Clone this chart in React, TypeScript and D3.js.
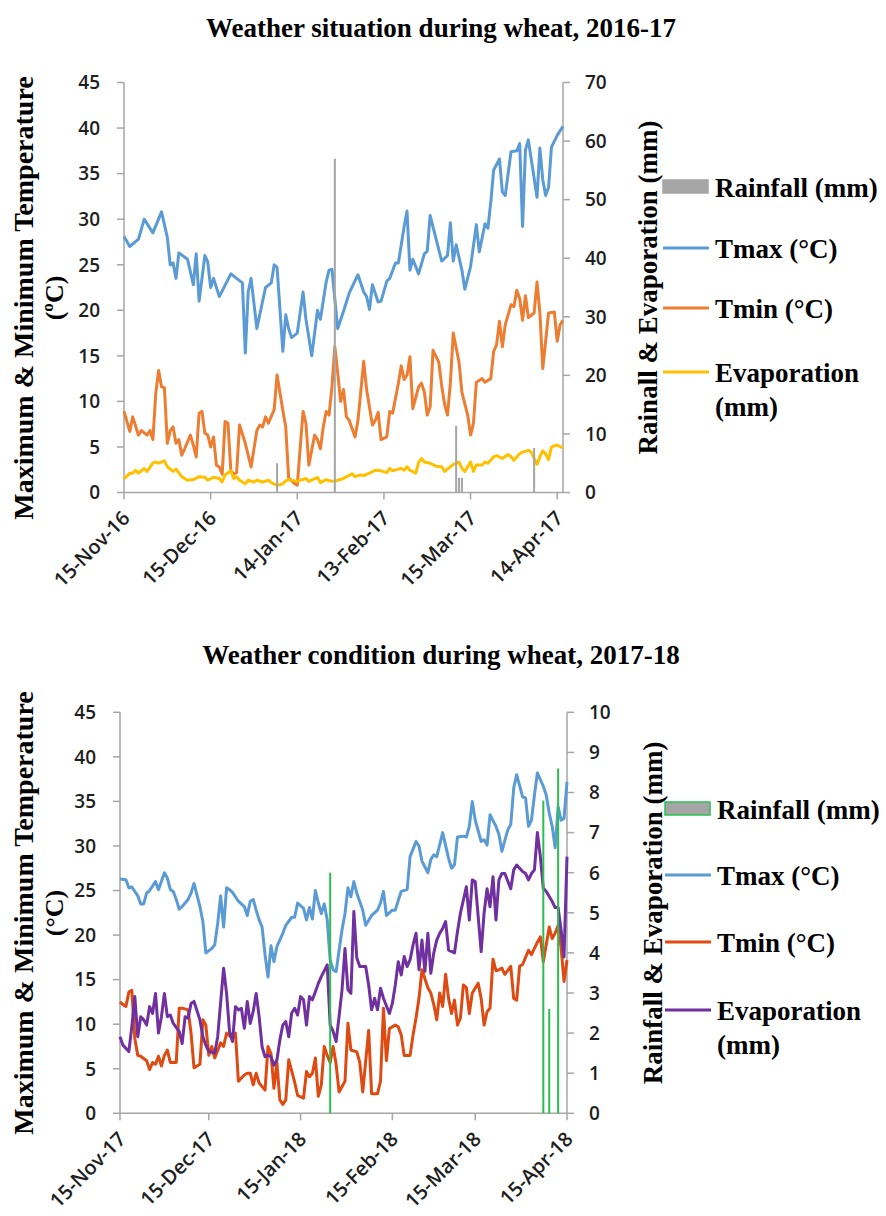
import * as d3 from "d3";

// [day after first date, value]
const TMAX_1617: [number, number][] = [
  [0, 28.1], [2, 27.0], [5, 27.8], [7, 30.0], [10, 28.5], [13, 30.8], [15, 28.0], [16, 25.0], [17, 25.2], [18, 23.5],
  [19, 26.3], [22, 25.6], [24, 22.8], [25, 26.2], [26, 21.0], [28, 26.0], [29, 25.3], [30, 22.5], [31, 23.5], [33, 21.5],
  [37, 24.0], [41, 23.0], [42, 15.3], [43, 22.0], [44, 23.5], [46, 18.0], [49, 22.5], [51, 23.0], [52, 25.0], [53, 24.7],
  [55, 15.5], [56, 19.5], [57, 18.0], [58, 17.0], [60, 17.5], [62, 22.0], [63, 19.0], [65, 15.0], [67, 20.0], [68, 19.0],
  [70, 23.1], [71, 24.4], [72, 24.5], [74, 18.0], [76, 19.9], [78, 21.9], [81, 23.9], [83, 22.0], [84, 21.5], [85, 20.1],
  [86, 22.8], [88, 20.9], [89, 21.0], [91, 23.2], [92, 23.5], [94, 25.2], [95, 25.2], [97, 29.2], [98, 30.9], [99, 24.4],
  [100, 25.6], [102, 24.0], [104, 26.2], [105, 26.5], [106, 30.4], [108, 27.9], [110, 25.4], [112, 26.0], [113, 29.6],
  [114, 25.4], [115, 27.2], [117, 24.4], [118, 22.3], [120, 24.8], [122, 29.4], [123, 26.4], [125, 29.5], [126, 29.0],
  [127, 31.9], [128, 35.4], [130, 36.6], [131, 33.0], [132, 32.6], [134, 37.4], [136, 37.5], [137, 38.3], [138, 29.2],
  [139, 37.6], [140, 38.7], [143, 32.4], [144, 37.8], [145, 34.3], [146, 32.6], [147, 33.5], [148, 37.9], [150, 39.2],
  [152, 40.2],
];

const TMIN_1617: [number, number][] = [
  [0, 8.9], [1, 7.8], [2, 6.7], [3, 8.3], [4, 7.3], [5, 6.3], [6, 6.8], [8, 6.3], [9, 6.8], [10, 5.8], [11, 10.9],
  [12, 13.4], [13, 11.6], [14, 11.5], [15, 5.4], [16, 6.8], [17, 7.2], [18, 5.4], [19, 5.8], [20, 4.1], [21, 4.8],
  [23, 6.3], [24, 5.2], [25, 3.9], [26, 8.7], [27, 8.9], [28, 6.5], [29, 6.3], [30, 5.0], [31, 6.1], [32, 3.0],
  [33, 2.8], [34, 2.0], [35, 7.8], [36, 7.6], [37, 2.4], [38, 2.0], [39, 2.2], [40, 7.4], [42, 5.4], [44, 2.8],
  [45, 4.8], [46, 6.8], [47, 7.4], [48, 7.2], [49, 8.3], [50, 7.6], [52, 9.1], [53, 12.9], [55, 9.0], [56, 7.2],
  [57, 1.6], [59, 1.0], [60, 0.8], [62, 8.9], [63, 7.6], [64, 3.0], [66, 6.3], [67, 5.8], [68, 4.8], [69, 7.2],
  [70, 8.9], [71, 8.5], [72, 11.6], [73, 16.0], [74, 13.1], [75, 10.0], [76, 11.3], [77, 8.3], [78, 7.9], [80, 6.1],
  [81, 7.9], [83, 14.4], [84, 11.3], [86, 7.4], [87, 7.9], [88, 8.8], [89, 5.8], [91, 6.1], [92, 8.9], [93, 8.7],
  [95, 12.0], [96, 13.9], [97, 12.4], [98, 12.9], [99, 14.9], [100, 9.2], [102, 11.6], [103, 12.0], [104, 11.0],
  [105, 8.5], [106, 9.4], [107, 15.6], [109, 14.3], [110, 11.7], [111, 9.7], [112, 8.5], [113, 12.0], [114, 17.5],
  [116, 14.3], [117, 11.0], [119, 8.5], [120, 6.3], [121, 7.6], [122, 12.1], [124, 12.5], [125, 12.1], [127, 12.5],
  [128, 15.5], [129, 16.2], [130, 18.8], [131, 16.0], [132, 18.4], [134, 20.6], [135, 20.4], [136, 22.2], [137, 21.3],
  [138, 18.9], [139, 21.6], [140, 19.2], [142, 19.7], [143, 23.1], [144, 19.7], [145, 13.6], [147, 19.7], [149, 19.8],
  [150, 16.6], [151, 18.4], [152, 18.9],
];

const EVAP_1617: [number, number][] = [
  [0, 2.3], [2, 3.3], [3, 3.3], [4, 3.8], [5, 3.3], [7, 4.1], [8, 3.6], [10, 5.0], [11, 5.2], [12, 5.0], [14, 5.4],
  [15, 4.4], [17, 3.6], [18, 4.0], [20, 2.7], [22, 2.1], [24, 2.2], [26, 2.7], [28, 2.6], [29, 2.1], [31, 2.6],
  [33, 2.4], [34, 1.8], [35, 3.0], [37, 3.7], [38, 2.4], [39, 2.7], [40, 2.1], [42, 1.5], [43, 2.1], [45, 1.8],
  [46, 2.1], [48, 1.8], [50, 2.1], [51, 1.7], [52, 1.4], [54, 1.3], [55, 1.5], [56, 2.0], [57, 2.2], [60, 1.9],
  [61, 2.1], [63, 2.4], [64, 1.9], [67, 2.6], [68, 1.7], [70, 2.2], [71, 2.0], [73, 1.9], [74, 2.1], [76, 2.4],
  [79, 3.2], [80, 2.7], [82, 3.0], [83, 2.9], [85, 3.3], [87, 3.8], [89, 3.7], [91, 3.4], [92, 4.1], [93, 3.7],
  [95, 4.0], [96, 4.1], [97, 3.8], [98, 4.4], [99, 3.8], [101, 3.3], [102, 5.1], [103, 5.8], [104, 5.2], [106, 5.0],
  [108, 4.5], [110, 4.4], [111, 3.6], [113, 4.4], [114, 4.8], [116, 5.2], [117, 4.1], [118, 3.6], [120, 5.2],
  [121, 3.6], [122, 4.7], [124, 4.7], [125, 5.2], [126, 5.0], [128, 6.1], [129, 6.3], [131, 5.8], [133, 6.5],
  [134, 6.1], [135, 5.5], [137, 6.6], [138, 6.9], [140, 7.2], [141, 6.9], [143, 4.8], [144, 6.1], [145, 7.1],
  [146, 6.6], [147, 5.6], [148, 7.8], [150, 8.1], [152, 7.6],
];

const RAIN_1617: [number, number][] = [[53, 5.0], [73, 57.0], [115, 11.4], [116, 2.5], [117, 2.5], [142, 7.6]];

const TMAX_1718: [number, number][] = [
  [0, 26.3], [2, 26.2], [3, 25.3], [4, 25.4], [6, 24.4], [7, 23.5], [8, 23.5], [9, 24.7], [10, 25.0], [12, 26.0],
  [13, 25.1], [15, 27.0], [16, 26.4], [17, 25.1], [18, 24.9], [19, 24.0], [20, 22.9], [21, 23.2], [23, 24.0],
  [24, 24.7], [25, 25.8], [27, 23.2], [28, 21.5], [29, 18.0], [31, 18.5], [32, 18.9], [33, 21.3], [34, 24.4],
  [35, 20.9], [36, 25.3], [37, 25.1], [38, 24.8], [40, 23.8], [41, 23.5], [42, 23.2], [43, 22.2], [44, 23.8],
  [45, 24.0], [46, 22.8], [47, 21.7], [48, 20.9], [49, 17.8], [50, 15.3], [51, 18.8], [52, 17.0], [53, 18.7],
  [55, 20.2], [56, 21.1], [58, 22.0], [59, 22.0], [60, 23.6], [62, 23.0], [63, 21.7], [64, 23.1], [65, 21.8],
  [66, 25.0], [67, 23.6], [68, 22.4], [69, 23.5], [70, 21.7], [71, 17.2], [72, 16.1], [73, 15.9], [75, 20.6],
  [76, 22.4], [77, 25.3], [78, 24.3], [79, 26.0], [80, 24.7], [82, 22.8], [83, 21.1], [85, 22.2], [87, 22.8],
  [88, 23.6], [89, 24.9], [90, 22.2], [92, 22.8], [93, 22.8], [94, 23.9], [95, 24.9], [97, 25.1], [98, 28.8],
  [100, 30.5], [101, 30.0], [102, 28.3], [104, 27.0], [105, 28.5], [106, 29.0], [107, 28.8], [109, 31.5],
  [111, 28.6], [112, 27.5], [113, 27.9], [114, 31.0], [116, 31.1], [117, 31.0], [118, 32.2], [119, 35.0],
  [120, 32.9], [122, 30.5], [123, 30.7], [124, 30.1], [125, 33.5], [127, 32.2], [128, 31.3], [129, 29.4],
  [131, 31.8], [132, 32.4], [133, 36.5], [134, 38.0], [136, 35.5], [137, 35.4], [138, 32.2], [139, 32.9],
  [140, 35.7], [141, 38.2], [143, 36.7], [144, 35.7], [145, 33.7], [146, 32.2], [147, 29.8], [148, 34.4],
  [149, 32.9], [150, 33.1], [151, 37.2],
];

const TMIN_1718: [number, number][] = [
  [0, 12.5], [1, 12.2], [2, 12.0], [3, 13.6], [4, 13.8], [5, 8.4], [6, 6.5], [7, 6.4], [9, 5.9], [10, 4.9], [11, 5.7],
  [12, 5.5], [13, 6.4], [14, 5.3], [15, 6.5], [16, 7.1], [17, 5.7], [19, 5.7], [20, 11.8], [21, 11.8], [23, 11.6],
  [24, 9.0], [25, 5.1], [26, 5.3], [27, 5.5], [28, 10.5], [29, 9.9], [30, 6.5], [31, 7.5], [32, 6.2], [34, 7.9],
  [35, 7.5], [36, 9.0], [38, 8.4], [39, 9.0], [40, 3.6], [42, 4.3], [43, 4.5], [44, 4.5], [45, 3.2], [46, 4.5],
  [47, 3.4], [49, 2.6], [50, 7.5], [51, 6.7], [52, 2.8], [53, 5.7], [54, 1.5], [55, 1.0], [56, 1.5], [57, 6.0],
  [59, 3.5], [60, 2.0], [62, 1.7], [63, 4.7], [64, 4.1], [65, 4.5], [66, 6.2], [67, 1.9], [68, 3.2], [69, 7.5],
  [70, 6.5], [71, 5.7], [72, 7.5], [73, 5.5], [74, 2.4], [76, 3.6], [77, 10.1], [78, 7.1], [80, 6.9], [81, 5.7],
  [82, 2.4], [84, 9.3], [85, 2.2], [87, 2.2], [88, 3.6], [89, 11.8], [90, 5.9], [91, 9.5], [93, 9.9], [94, 9.7],
  [95, 8.8], [96, 6.5], [98, 6.5], [99, 8.8], [100, 10.7], [101, 12.9], [102, 16.1], [104, 14.1], [105, 13.5],
  [106, 12.2], [107, 10.5], [108, 13.5], [109, 12.0], [110, 15.6], [111, 12.9], [112, 11.2], [113, 12.7],
  [114, 9.9], [115, 10.7], [116, 14.4], [117, 14.1], [118, 11.2], [119, 13.5], [121, 14.6], [122, 12.9],
  [123, 9.9], [124, 11.4], [125, 11.8], [126, 17.3], [127, 16.0], [128, 16.1], [129, 16.3], [130, 15.6],
  [132, 16.5], [133, 12.9], [134, 12.7], [135, 16.5], [136, 16.7], [137, 17.5], [138, 18.3], [139, 17.8],
  [140, 18.5], [141, 19.2], [142, 19.8], [143, 17.0], [145, 20.9], [146, 19.6], [147, 20.2], [148, 21.1],
  [149, 18.6], [150, 14.8], [151, 17.2],
];

const EVAP_1718: [number, number][] = [
  [0, 1.91], [1, 1.7], [3, 1.54], [4, 2.16], [5, 2.91], [6, 1.91], [7, 2.41], [8, 2.33], [9, 2.2], [10, 2.66],
  [11, 2.49], [12, 2.99], [13, 2.0], [14, 2.41], [15, 2.99], [16, 2.41], [17, 2.45], [18, 2.24], [20, 2.04],
  [21, 1.74], [22, 2.41], [23, 2.37], [24, 2.74], [25, 2.79], [27, 2.33], [28, 1.91], [29, 1.7], [30, 1.54],
  [32, 1.5], [33, 1.91], [35, 3.62], [36, 2.99], [37, 2.04], [38, 1.79], [39, 2.66], [40, 2.58], [41, 2.62],
  [42, 2.12], [43, 2.79], [44, 2.24], [45, 2.54], [46, 2.99], [47, 2.41], [48, 1.66], [49, 1.41], [50, 1.45],
  [51, 1.41], [52, 1.2], [53, 1.33], [54, 1.83], [55, 2.2], [56, 2.29], [57, 1.91], [58, 2.5], [59, 2.62],
  [60, 2.45], [61, 2.91], [62, 2.83], [63, 2.2], [64, 2.91], [65, 2.83], [66, 3.03], [67, 3.24], [68, 3.41],
  [70, 3.7], [71, 2.2], [72, 2.04], [73, 1.79], [74, 2.41], [75, 3.08], [76, 4.11], [77, 3.08], [78, 2.99],
  [79, 5.03], [80, 3.87], [81, 3.66], [83, 3.66], [84, 3.2], [85, 2.58], [86, 2.87], [87, 2.58], [88, 3.12],
  [89, 2.87], [91, 2.49], [92, 2.74], [93, 3.2], [94, 3.78], [95, 3.45], [96, 3.91], [97, 3.66], [98, 3.83],
  [99, 4.2], [100, 4.49], [101, 3.58], [102, 4.32], [103, 3.54], [104, 4.49], [105, 3.49], [106, 4.0],
  [107, 4.32], [108, 4.49], [109, 4.61], [110, 4.78], [111, 4.07], [113, 4.0], [114, 4.53], [115, 4.99],
  [116, 5.32], [117, 5.65], [118, 4.82], [119, 5.82], [120, 5.78], [122, 4.03], [123, 5.0], [124, 5.6],
  [125, 5.15], [126, 5.9], [127, 4.82], [128, 5.82], [129, 5.98], [130, 5.98], [132, 5.6], [133, 6.07],
  [134, 6.19], [136, 6.03], [137, 5.98], [138, 5.82], [139, 5.98], [140, 6.07], [141, 7.0], [142, 6.4],
  [143, 5.61], [144, 5.53], [146, 5.28], [147, 5.13], [148, 5.13], [149, 4.57], [150, 3.9], [151, 6.4],
];

const RAIN_1718: [number, number][] = [[71, 6.0], [143, 7.8], [145, 2.6], [148, 8.6]];

const TEMP_TICKS = [0, 5, 10, 15, 20, 25, 30, 35, 40, 45];
const MM_TICKS_1617 = [0, 10, 20, 30, 40, 50, 60, 70];
const MM_TICKS_1718 = [0, 1, 2, 3, 4, 5, 6, 7, 8, 9, 10];
const DATE_TICKS_1617 = ["2016-11-15", "2016-12-15", "2017-01-14", "2017-02-13", "2017-03-15", "2017-04-14"];
const DATE_TICKS_1718 = ["2017-11-15", "2017-12-15", "2018-01-15", "2018-02-15", "2018-03-15", "2018-04-15"];

const SERIF = "'Liberation Serif', 'Times New Roman', serif";
const SANS = "'Open Sans', 'Liberation Sans', sans-serif";
const AXIS = "#a6a6a6";

type Series = [number, number][];

interface PanelCfg {
  title: string;
  titleY: number;
  start: string;
  end: string;
  left: number;
  right: number;
  top: number;
  bottom: number;
  mmTicks: number[];
  dateTicks: string[];
  tmax: Series;
  tmin: Series;
  evap: Series;
  rain: Series;
  tminColor: string;
  evapColor: string;
  rainColor: string;
  rainLegendStroke: string;
  leftTitleY: number;
  unit: string;
  rightTitle: string;
  rightTitleX: number;
  legendY: number[];
  legendX: number;
}

const utc = (s: string) => new Date(s + "T00:00:00Z");

function Panel({ c }: { c: PanelCfg }) {
  const start = utc(c.start);
  const day = (d: number) => d3.utcDay.offset(start, d);
  const x = d3.scaleUtc().domain([start, utc(c.end)]).range([c.left, c.right]);
  const yL = d3.scaleLinear().domain([0, 45]).range([c.bottom, c.top]);
  const yR = d3.scaleLinear().domain([0, c.mmTicks[c.mmTicks.length - 1]]).range([c.bottom, c.top]);
  const lineL = d3.line<[number, number]>().x((d) => x(day(d[0]))).y((d) => yL(d[1]));
  const lineR = d3.line<[number, number]>().x((d) => x(day(d[0]))).y((d) => yR(d[1]));
  const fmt = d3.utcFormat("%d-%b-%y");
  const midY = (c.top + c.bottom) / 2;
  const [ly0, ly1, ly2, ly3] = c.legendY;
  const lx = c.legendX;

  return (
    <g>
      <text x={441} y={c.titleY} textAnchor="middle" fontFamily={SERIF} fontWeight={700} fontSize={27}>
        {c.title}
      </text>

      {/* axes */}
      <line x1={c.left} x2={c.left} y1={c.top} y2={c.bottom} stroke={AXIS} strokeWidth={1.5} />
      <line x1={c.right} x2={c.right} y1={c.top} y2={c.bottom} stroke={AXIS} strokeWidth={1.5} />
      <line x1={c.left} x2={c.right} y1={c.bottom} y2={c.bottom} stroke={AXIS} strokeWidth={1.5} />
      {TEMP_TICKS.map((t) => (
        <g key={"l" + t}>
          <line x1={c.left - 7} x2={c.left} y1={yL(t)} y2={yL(t)} stroke={AXIS} strokeWidth={1.5} />
          <text x={c.left - 24} y={yL(t)} dy="0.36em" textAnchor="end" fontFamily={SANS} fontWeight={600} fontSize={19} fill="#1e1e1e">
            {t}
          </text>
        </g>
      ))}
      {c.mmTicks.map((t) => (
        <g key={"r" + t}>
          <line x1={c.right} x2={c.right + 7} y1={yR(t)} y2={yR(t)} stroke={AXIS} strokeWidth={1.5} />
          <text x={c.right + 22} y={yR(t)} dy="0.36em" fontFamily={SANS} fontWeight={600} fontSize={19} fill="#1e1e1e">
            {t}
          </text>
        </g>
      ))}
      {c.dateTicks.map((s) => {
        const px = x(utc(s));
        return (
          <g key={s}>
            <line x1={px} x2={px} y1={c.bottom} y2={c.bottom + 7} stroke={AXIS} strokeWidth={1.5} />
            <text
              transform={`translate(${px + 7},${c.bottom + 27}) rotate(-45)`}
              textAnchor="end"
              fontFamily={SANS}
              fontWeight={600}
              fontSize={20}
              fill="#1e1e1e"
            >
              {fmt(utc(s))}
            </text>
          </g>
        );
      })}

      {/* series */}
      <path d={lineL(c.tmax) ?? ""} fill="none" stroke="#5b9bd5" strokeWidth={3} strokeLinejoin="round" />
      <path d={lineL(c.tmin) ?? ""} fill="none" stroke={c.tminColor} strokeWidth={3} strokeLinejoin="round" />
      <path d={lineR(c.evap) ?? ""} fill="none" stroke={c.evapColor} strokeWidth={3} strokeLinejoin="round" />
      {c.rain.map((d) => (
        <rect key={"b" + d[0]} x={x(day(d[0])) - 1} width={2} y={yR(d[1])} height={c.bottom - yR(d[1])} fill={c.rainColor} />
      ))}

      {/* axis titles */}
      <text transform={`translate(33,${c.leftTitleY}) rotate(-90)`} textAnchor="middle" fontFamily={SERIF} fontWeight={700} fontSize={28}>
        Maximum &amp; Minimum Temperature
      </text>
      <text transform={`translate(63,${c.leftTitleY}) rotate(-90)`} textAnchor="middle" fontFamily={SERIF} fontWeight={700} fontSize={26}>
        {c.unit}
      </text>
      <text transform={`translate(${c.rightTitleX},${midY}) rotate(-90)`} textAnchor="middle" fontFamily={SERIF} fontWeight={700} fontSize={27}>
        {c.rightTitle}
      </text>

      {/* legend */}
      <rect x={lx} y={ly0 - 6.5} width={45} height={13} fill="#a5a5a5" stroke={c.rainLegendStroke} strokeWidth={1.5} />
      <line x1={lx} x2={lx + 46} y1={ly1} y2={ly1} stroke="#5b9bd5" strokeWidth={3} />
      <line x1={lx} x2={lx + 46} y1={ly2} y2={ly2} stroke={c.tminColor} strokeWidth={3} />
      <line x1={lx} x2={lx + 46} y1={ly3} y2={ly3} stroke={c.evapColor} strokeWidth={3} />
      <g fontFamily={SERIF} fontWeight={700} fontSize={27}>
        <text x={lx + 52} y={ly0 + 10}>Rainfall (mm)</text>
        <text x={lx + 52} y={ly1 + 10}>Tmax (°C)</text>
        <text x={lx + 52} y={ly2 + 10}>Tmin (°C)</text>
        <text x={lx + 52} y={ly3 + 10}>Evaporation</text>
        <text x={lx + 52} y={ly3 + 44}>(mm)</text>
      </g>
    </g>
  );
}

const PANELS: PanelCfg[] = [
  {
    title: "Weather situation during wheat, 2016-17",
    titleY: 37,
    start: "2016-11-15",
    end: "2017-04-16",
    left: 124,
    right: 563,
    top: 82.5,
    bottom: 492.5,
    mmTicks: MM_TICKS_1617,
    dateTicks: DATE_TICKS_1617,
    tmax: TMAX_1617,
    tmin: TMIN_1617,
    evap: EVAP_1617,
    rain: RAIN_1617,
    tminColor: "#ed7d31",
    evapColor: "#ffc000",
    rainColor: "#a5a5a5",
    rainLegendStroke: "#a5a5a5",
    leftTitleY: 298,
    unit: "(ºC)",
    rightTitle: "Rainall & Evaporation (mm)",
    rightTitleX: 657,
    legendY: [186.5, 248, 308, 372],
    legendX: 663,
  },
  {
    title: "Weather condition during wheat, 2017-18",
    titleY: 664,
    start: "2017-11-15",
    end: "2018-04-15",
    left: 120,
    right: 567,
    top: 712.3,
    bottom: 1113.3,
    mmTicks: MM_TICKS_1718,
    dateTicks: DATE_TICKS_1718,
    tmax: TMAX_1718,
    tmin: TMIN_1718,
    evap: EVAP_1718,
    rain: RAIN_1718,
    tminColor: "#de4a12",
    evapColor: "#7030a0",
    rainColor: "#2cbf4f",
    rainLegendStroke: "#2cbf4f",
    leftTitleY: 913,
    unit: "(°C)",
    rightTitle: "Rainfall & Evaporation (mm)",
    rightTitleX: 662,
    legendY: [808.5, 875, 942, 1010],
    legendX: 665,
  },
];

export default function App() {
  return (
    <div style={{ position: "absolute", left: 0, top: 0, background: "#fff" }}>
      <svg width={886} height={1216} viewBox="0 0 886 1216" style={{ display: "block" }}>
        <rect width={886} height={1216} fill="#fff" />
        {PANELS.map((p) => (
          <Panel key={p.title} c={p} />
        ))}
      </svg>
    </div>
  );
}
